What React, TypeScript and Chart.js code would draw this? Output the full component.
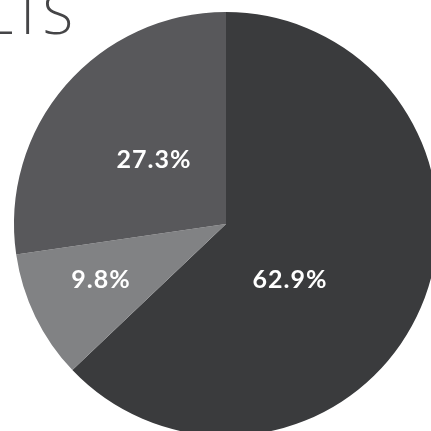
import React, { useEffect, useRef } from "react";
import { Chart, registerables } from "chart.js";

Chart.register(...registerables);

const categories = ["A", "B", "C"];
const values = [62.9, 9.8, 27.3];
const valueLabels = ["62.9%", "9.8%", "27.3%"];
const sliceColors = ["#3a3b3d", "#818284", "#58585b"];
const titleText = "RESULTS";

// label placement style: angle offset (deg) from slice middle, radius fraction
const labelAngleOffset = [17.5, 2.2, 1.2];
const labelRadiusFrac = [0.398, 0.644, 0.458];

const labelPlugin = {
  id: "sliceLabels",
  afterDatasetsDraw(chart: any) {
    const ctx = chart.ctx;
    const meta = chart.getDatasetMeta(0);
    ctx.save();
    ctx.fillStyle = "#ffffff";
    ctx.font = "bold 25px Lato";
    (ctx as any).letterSpacing = "1px";
    ctx.textAlign = "center";
    ctx.textBaseline = "alphabetic";
    meta.data.forEach((arc: any, i: number) => {
      const p = arc.getProps(["x", "y", "startAngle", "endAngle", "outerRadius"], true);
      const mid = (p.startAngle + p.endAngle) / 2 + (labelAngleOffset[i] * Math.PI) / 180;
      const r = p.outerRadius * labelRadiusFrac[i];
      const x = p.x + Math.cos(mid) * r;
      const y = p.y + Math.sin(mid) * r;
      ctx.fillText(valueLabels[i], x, y + 9);
    });
    ctx.restore();
  },
};

const titlePlugin = {
  id: "cornerTitle",
  afterDraw(chart: any) {
    const ctx = chart.ctx;
    ctx.save();
    ctx.fillStyle = "#454547";
    ctx.font = "300 56px 'Open Sans'";
    ctx.textAlign = "right";
    ctx.textBaseline = "alphabetic";
    ctx.fillText(titleText, 73, 34);
    ctx.restore();
  },
};

export default function App() {
  const ref = useRef<HTMLCanvasElement>(null);
  useEffect(() => {
    if (!ref.current) return;
    const chart = new Chart(ref.current, {
      type: "pie",
      data: {
        labels: categories,
        datasets: [
          {
            data: values,
            backgroundColor: sliceColors,
            borderWidth: 0,
          },
        ],
      },
      options: {
        responsive: false,
        animation: false,
        layout: { padding: { left: 14, right: 14, top: 12, bottom: 12 } },
        plugins: {
          legend: { display: false },
          tooltip: { enabled: false },
          title: { display: false },
        },
      },
      plugins: [labelPlugin, titlePlugin],
    });
    return () => chart.destroy();
  }, []);
  return (
    <div
      style={{
        position: "fixed",
        left: 0,
        top: 0,
        width: 431,
        height: 431,
        overflow: "hidden",
        background: "#ffffff",
      }}
    >
      <canvas ref={ref} width={452} height={448} style={{ display: "block" }} />
    </div>
  );
}
